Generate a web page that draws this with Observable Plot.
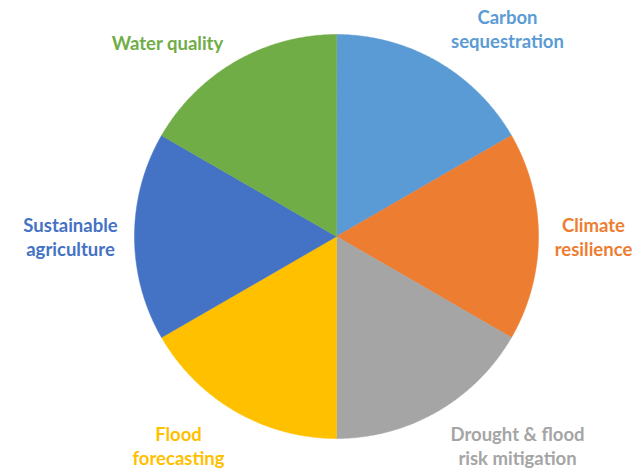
<!DOCTYPE html>
<html>
<head>
<meta charset="utf-8">
<script src="https://cdn.jsdelivr.net/npm/d3@7"></script>
<script src="https://cdn.jsdelivr.net/npm/@observablehq/plot@0.6"></script>
<style>
  html, body { margin: 0; padding: 0; background: #fff; }
</style>
</head>
<body>
<div id="chart"></div>
<script>
// Data
const categories = ["Carbon sequestration", "Climate resilience", "Drought & flood risk mitigation", "Flood forecasting", "Sustainable agriculture", "Water quality"];
const labelLines = ["Carbon\nsequestration", "Climate\nresilience", "Drought & flood\nrisk mitigation", "Flood\nforecasting", "Sustainable\nagriculture", "Water quality"];
const values = [1, 1, 1, 1, 1, 1];
const colors = ["#5B9BD5", "#ED7D31", "#A5A5A5", "#FFC000", "#4472C4", "#70AD47"];

// Layout (pixel space)
const W = 638, H = 470;
const cx = 336, cy = 236, R = 202;
const labelPos = [[507, 28], [593, 236], [517, 445], [178, 445], [70, 236], [167, 42]];

const pie = d3.pie().sort(null).value(d => d)(values);

// Build slice outlines from pie angles
const slicePts = [];
pie.forEach((p, i) => {
  const n = Math.max(2, Math.ceil((p.endAngle - p.startAngle) / 0.01));
  slicePts.push({cat: categories[i], x: cx, y: cy, k: 0});
  for (let j = 0; j <= n; j++) {
    const a = p.startAngle + (p.endAngle - p.startAngle) * j / n;
    slicePts.push({cat: categories[i], x: cx + R * Math.sin(a), y: cy - R * Math.cos(a), k: j + 1});
  }
});

const labels = categories.map((c, i) => ({cat: c, text: labelLines[i], x: labelPos[i][0], y: labelPos[i][1]}));

const plot = Plot.plot({
  width: W,
  height: H,
  margin: 0,
  x: {domain: [0, W], range: [0, W], axis: null},
  y: {domain: [0, H], range: [0, H], axis: null},
  color: {domain: categories, range: colors},
  style: {background: "#fff"},
  marks: [
    Plot.line(slicePts, {x: "x", y: "y", z: "cat", fill: "cat", stroke: "cat", strokeWidth: 0.5, curve: "linear-closed"}),
    Plot.text(labels, {
      x: "x", y: "y", text: "text", fill: "cat",
      fontFamily: "Lato, 'Open Sans', sans-serif", fontWeight: "bold", fontSize: 18.5,
      lineHeight: 1.3, textAnchor: "middle"
    })
  ]
});
document.getElementById("chart").appendChild(plot);
</script>
</body>
</html>
